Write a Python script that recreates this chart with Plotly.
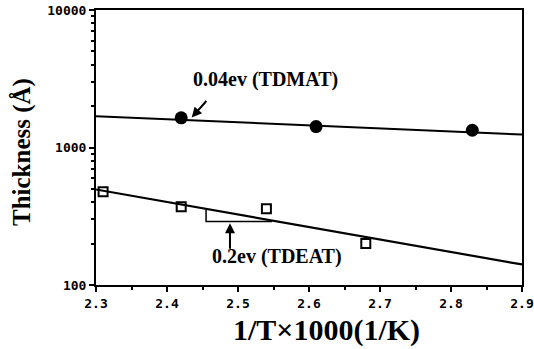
import plotly.graph_objects as go

# Data
tdmat_x = [2.42, 2.61, 2.83]
tdmat_y = [1645, 1420, 1335]
tdeat_x = [2.31, 2.42, 2.54, 2.68]
tdeat_y = [476, 370, 358, 200]

fit_x = [2.3, 2.9]
tdmat_fit_y = [1690, 1243]
tdeat_fit_y = [495, 141]

# slope guide triangle
tri_x = [2.455, 2.455, 2.548]
tri_y = [358, 290, 290]

x_ticks = [2.3, 2.4, 2.5, 2.6, 2.7, 2.8, 2.9]
x_ticklabels = ["2.3", "2.4", "2.5", "2.6", "2.7", "2.8", "2.9"]
y_ticks = [100, 1000, 10000]
y_ticklabels = ["100", "1000", "10000"]

serif = "Liberation Serif"
tickfont = dict(family="DejaVu Sans Mono", size=13, color="black", weight="bold")

fig = go.Figure()
fig.add_trace(go.Scatter(x=fit_x, y=tdmat_fit_y, mode="lines",
                         line=dict(color="black", width=2), showlegend=False))
fig.add_trace(go.Scatter(x=fit_x, y=tdeat_fit_y, mode="lines",
                         line=dict(color="black", width=2.2), showlegend=False))
fig.add_trace(go.Scatter(x=tri_x, y=tri_y, mode="lines",
                         line=dict(color="black", width=1.5), showlegend=False))
fig.add_trace(go.Scatter(x=tdmat_x, y=tdmat_y, mode="markers",
                         marker=dict(symbol="circle", size=13, color="black"),
                         showlegend=False))
fig.add_trace(go.Scatter(x=tdeat_x, y=tdeat_y, mode="markers",
                         marker=dict(symbol="square-open", size=9, color="black",
                                     line=dict(width=2, color="black")),
                         showlegend=False))

fig.update_layout(
    width=534, height=349,
    margin=dict(l=96, r=12, t=10, b=64),
    paper_bgcolor="white", plot_bgcolor="white",
    showlegend=False,
    xaxis=dict(range=[2.3, 2.9], tickvals=x_ticks, ticktext=x_ticklabels,
               automargin=False,
               showgrid=False, zeroline=False, showline=True, linecolor="black",
               linewidth=2, mirror=True, ticks="outside", ticklen=5, tickwidth=2,
               tickcolor="black", tickfont=tickfont,
               minor=dict(tickvals=[2.35, 2.45, 2.55, 2.65, 2.75, 2.85],
                          ticks="outside", ticklen=3, tickwidth=1.5, tickcolor="black")),
    yaxis=dict(type="log", range=[2, 4], tickvals=y_ticks, ticktext=y_ticklabels,
               automargin=False,
               showgrid=False, zeroline=False, showline=True, linecolor="black",
               linewidth=2, mirror=True, ticks="outside", ticklen=5, tickwidth=2,
               tickcolor="black", tickfont=tickfont,
               minor=dict(ticks="outside", ticklen=3, tickwidth=1.5, tickcolor="black",
                          dtick="D1")),
)

annotations = [
    dict(x=2.4348, y=3.218, xref="x", yref="y", text="", showarrow=True,
         ax=16, ay=-18, arrowhead=2, arrowsize=1, arrowwidth=2, arrowcolor="black"),
    dict(x=2.4887, y=2.45, xref="x", yref="y", text="", showarrow=True,
         ax=0, ay=27, arrowhead=2, arrowsize=1, arrowwidth=2, arrowcolor="black"),
    dict(x=2.539, y=3.4945, xref="x", yref="y", text="<b>0.04ev (TDMAT)</b>",
         showarrow=False, font=dict(family=serif, size=20, color="black")),
    dict(x=2.555, y=2.205, xref="x", yref="y", text="<b>0.2ev (TDEAT)</b>",
         showarrow=False, font=dict(family=serif, size=20, color="black")),
    dict(x=(326.5 - 96) / 426, y=(285 - 349) / 275, xref="paper", yref="paper",
         xanchor="center", yanchor="bottom",
         text="<b>1/T×1000(1/K)</b>", showarrow=False,
         font=dict(family=serif, size=30, color="black")),
    dict(x=(22 - 96) / 426, y=(285 - 152) / 275, xref="paper", yref="paper",
         xanchor="center", yanchor="middle",
         text="<b>Thickness (Å)</b>", textangle=-90, showarrow=False,
         font=dict(family=serif, size=25, color="black")),
]
fig.update_layout(annotations=annotations)

fig.write_html("out.html")
